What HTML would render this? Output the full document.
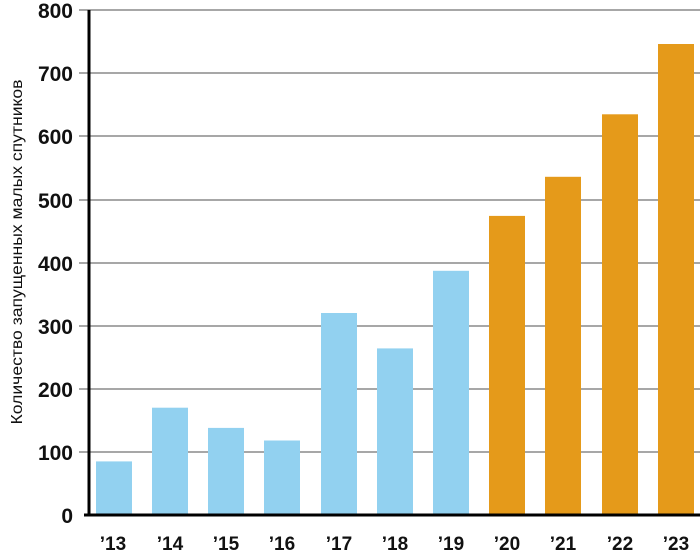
<!DOCTYPE html>
<html><head><meta charset="utf-8"><style>
html,body{margin:0;padding:0;background:#fff;}
svg{display:block;}
text{font-family:"Liberation Sans",sans-serif;}
</style></head><body>
<svg width="700" height="556" xmlns="http://www.w3.org/2000/svg">
<g stroke="#8a8a8a" stroke-width="1.5">
<line x1="79" x2="700" y1="10" y2="10"/>
<line x1="79" x2="700" y1="73" y2="73"/>
<line x1="79" x2="700" y1="136" y2="136"/>
<line x1="79" x2="700" y1="200" y2="200"/>
<line x1="79" x2="700" y1="263" y2="263"/>
<line x1="79" x2="700" y1="326" y2="326"/>
<line x1="79" x2="700" y1="389" y2="389"/>
<line x1="79" x2="700" y1="452" y2="452"/>
</g>
<g fill="#92d1f0">
<rect x="96" y="461.4" width="36" height="53.6"/>
<rect x="152" y="407.7" width="36" height="107.3"/>
<rect x="208" y="427.9" width="36" height="87.1"/>
<rect x="264" y="440.5" width="36" height="74.5"/>
<rect x="321" y="313" width="36" height="202"/>
<rect x="377" y="348.4" width="36" height="166.6"/>
<rect x="433" y="270.8" width="36" height="244.2"/>
</g>
<g fill="#e59a1a">
<rect x="489" y="215.9" width="36" height="299.1"/>
<rect x="545" y="176.8" width="36" height="338.2"/>
<rect x="602" y="114.3" width="36" height="400.7"/>
<rect x="658" y="44" width="36" height="471"/>
</g>
<line x1="89" x2="89" y1="10" y2="516" stroke="#000" stroke-width="3"/>
<line x1="84" x2="700" y1="515" y2="515" stroke="#000" stroke-width="3"/>
<g font-size="21" font-weight="bold" text-anchor="end" fill="#111">
<text x="73" y="18">800</text>
<text x="73" y="81">700</text>
<text x="73" y="144">600</text>
<text x="73" y="208">500</text>
<text x="73" y="271">400</text>
<text x="73" y="334">300</text>
<text x="73" y="397">200</text>
<text x="73" y="460">100</text>
<text x="73" y="523">0</text>
</g>
<g font-size="19" font-weight="bold" text-anchor="middle" fill="#111">
<text x="113" y="550">’13</text>
<text x="170" y="550">’14</text>
<text x="226" y="550">’15</text>
<text x="282" y="550">’16</text>
<text x="339" y="550">’17</text>
<text x="395" y="550">’18</text>
<text x="451" y="550">’19</text>
<text x="507" y="550">’20</text>
<text x="563" y="550">’21</text>
<text x="620" y="550">’22</text>
<text x="676" y="550">’23</text>
</g>
<text x="0" y="0" font-size="16" text-anchor="middle" textLength="345" lengthAdjust="spacingAndGlyphs" fill="#111" transform="translate(22,252) rotate(-90)">Количество запущенных малых спутников</text>
</svg>
</body></html>
